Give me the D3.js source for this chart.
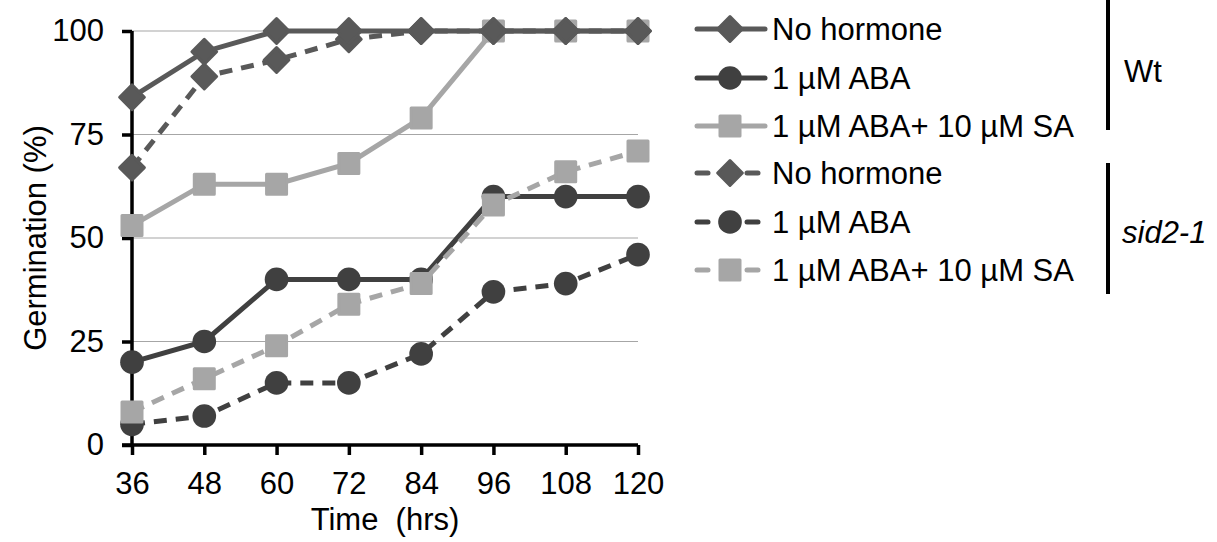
<!DOCTYPE html>
<html><head><meta charset="utf-8">
<script src="https://cdn.jsdelivr.net/npm/d3@7"></script>
<style>body{margin:0;background:#fff}svg{display:block;font-family:"Liberation Sans",Arial,sans-serif}</style>
</head><body>
<svg id="chart" width="1217" height="542"></svg>
<script>
const times = [36, 48, 60, 72, 84, 96, 108, 120];
const yTicks = [0, 25, 50, 75, 100];
const wtNoHormone = [84, 95, 100, 100, 100, 100, 100, 100];
const wtABA = [20, 25, 40, 40, 40, 60, 60, 60];
const wtABASA = [53, 63, 63, 68, 79, 100, 100, 100];
const sidNoHormone = [67, 89, 93, 98, 100, 100, 100, 100];
const sidABA = [5, 7, 15, 15, 22, 37, 39, 46];
const sidABASA = [8, 16, 24, 34, 39, 58, 66, 71];
const seriesNames = ["No hormone", "1 µM ABA", "1 µM ABA+ 10 µM SA", "No hormone", "1 µM ABA", "1 µM ABA+ 10 µM SA"];
const groupLabels = ["Wt", "sid2-1"];

const series = [
  {name: seriesNames[0], values: wtNoHormone, color: "#595959", shape: "diamond", dashed: false},
  {name: seriesNames[1], values: wtABA, color: "#404040", shape: "circle", dashed: false},
  {name: seriesNames[2], values: wtABASA, color: "#A6A6A6", shape: "square", dashed: false},
  {name: seriesNames[3], values: sidNoHormone, color: "#595959", shape: "diamond", dashed: true},
  {name: seriesNames[4], values: sidABA, color: "#404040", shape: "circle", dashed: true},
  {name: seriesNames[5], values: sidABASA, color: "#A6A6A6", shape: "square", dashed: true}
];
const drawOrder = [4, 1, 2, 5, 3, 0];
const FS = 31;

const svg = d3.select("#chart");
const x = d3.scaleLinear().domain([36, 120]).range([132, 638]);
const y = d3.scaleLinear().domain([0, 100]).range([445, 31]);

// gridlines
svg.append("g").selectAll("line").data(yTicks.filter(d => d > 0)).join("line")
  .attr("x1", x(36)).attr("x2", x(120))
  .attr("y1", d => y(d)).attr("y2", d => y(d))
  .attr("stroke", "#A6A6A6").attr("stroke-width", 1.2);

// axes
const yAxis = svg.append("g").attr("transform", `translate(${x(36)},0)`)
  .call(d3.axisLeft(y).tickValues(yTicks).tickSize(10).tickPadding(18));
const xAxis = svg.append("g").attr("transform", `translate(0,${y(0)})`)
  .call(d3.axisBottom(x).tickValues(times).tickSize(10).tickPadding(17));
[yAxis, xAxis].forEach(a => {
  a.attr("font-size", FS).attr("font-family", "Liberation Sans, Arial, sans-serif");
  a.select(".domain").attr("stroke", "#000").attr("stroke-width", 3.5);
  a.selectAll(".tick line").attr("stroke", "#000").attr("stroke-width", 3.5);
  a.selectAll("text").attr("fill", "#000");
});
yAxis.select(".domain").attr("d", `M0,${y(0)}V${y(100)}`);
xAxis.select(".domain").attr("d", `M${x(36)-10},0H${x(120)}`);

// axis titles
svg.append("text").attr("transform", `translate(46,${(y(0)+y(100))/2}) rotate(-90)`)
  .attr("text-anchor", "middle").attr("font-size", FS).text("Germination (%)");
svg.append("text").attr("x", (x(36)+x(120))/2).attr("y", 530)
  .attr("text-anchor", "middle").attr("font-size", FS).attr("xml:space", "preserve").text("Time  (hrs)");

const sym = {
  diamond: d3.symbol().type(d3.symbolDiamond2).size(390),
  circle: d3.symbol().type(d3.symbolCircle).size(440),
  square: d3.symbol().type(d3.symbolSquare).size(400)
};

function drawMarker(g, s, cx, cy) {
  g.append("path").attr("d", sym[s.shape]()).attr("transform", `translate(${cx},${cy})`)
    .attr("fill", s.color)
    .attr("stroke", s.shape === "circle" ? "none" : s.color)
    .attr("stroke-width", 3).attr("stroke-linejoin", "round");
}

const line = d3.line().x((d, i) => x(times[i])).y(d => y(d));
const plot = svg.append("g");
drawOrder.forEach(k => {
  const s = series[k];
  const g = plot.append("g");
  g.append("path").attr("d", line(s.values)).attr("fill", "none")
    .attr("stroke", s.color).attr("stroke-width", 5)
    .attr("stroke-dasharray", s.dashed ? "13,9" : null);
  s.values.forEach((v, i) => drawMarker(g, s, x(times[i]), y(v)));
});

// legend
const legRows = [29, 78, 126, 173, 222, 270];
const leg = svg.append("g");
series.forEach((s, i) => {
  const cy = legRows[i];
  const g = leg.append("g");
  if (s.dashed) {
    g.append("line").attr("x1", 697).attr("x2", 708).attr("y1", cy).attr("y2", cy)
      .attr("stroke", s.color).attr("stroke-width", 5).attr("stroke-linecap", "round");
    g.append("line").attr("x1", 747).attr("x2", 758).attr("y1", cy).attr("y2", cy)
      .attr("stroke", s.color).attr("stroke-width", 5).attr("stroke-linecap", "round");
  } else {
    g.append("line").attr("x1", 697).attr("x2", 765).attr("y1", cy).attr("y2", cy)
      .attr("stroke", s.color).attr("stroke-width", 5).attr("stroke-linecap", "round");
  }
  drawMarker(g, s, 730, cy);
  g.append("text").attr("x", 772).attr("y", cy + 11).attr("font-size", FS).attr("fill", "#000").text(s.name);
});

// group brackets
svg.append("line").attr("x1", 1108).attr("x2", 1108).attr("y1", 0).attr("y2", 130).attr("stroke", "#000").attr("stroke-width", 4);
svg.append("line").attr("x1", 1108).attr("x2", 1108).attr("y1", 163).attr("y2", 294).attr("stroke", "#000").attr("stroke-width", 4);
svg.append("text").attr("x", 1124).attr("y", 82).attr("font-size", FS).text(groupLabels[0]);
svg.append("text").attr("x", 1122).attr("y", 243).attr("font-size", FS).attr("font-style", "italic").text(groupLabels[1]);
</script>
</body></html>
